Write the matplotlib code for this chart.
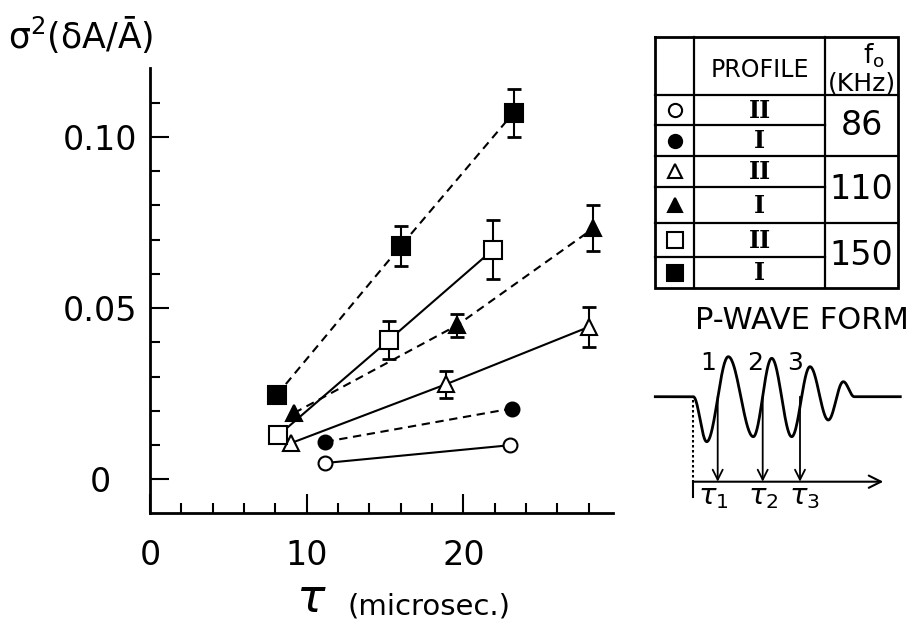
import matplotlib
matplotlib.use('Agg')
import matplotlib.pyplot as plt
import numpy as np

plt.rcParams['font.family'] = ['DejaVu Sans']
plt.rcParams['mathtext.fontset'] = 'dejavusans'

INK = 'black'

# --- data (tau in microsec, sigma^2) ---
OPEN_CIRCLE_X = [11.2, 23.0]
OPEN_CIRCLE_Y = [0.0048, 0.0100]

FILLED_CIRCLE_X = [11.2, 23.1]
FILLED_CIRCLE_Y = [0.0110, 0.0207]

OPEN_TRI_X = [9.0, 18.9, 28.0]
OPEN_TRI_Y = [0.0106, 0.0278, 0.0445]
OPEN_TRI_ERR = [0, 0.0039, 0.0057]

FILLED_TRI_X = [9.2, 19.6, 28.3]
FILLED_TRI_Y = [0.0194, 0.0450, 0.0733]
FILLED_TRI_ERR = [0, 0.0034, 0.0067]

OPEN_SQ_X = [8.2, 15.25, 21.9]
OPEN_SQ_Y = [0.0129, 0.0407, 0.0671]
OPEN_SQ_ERR = [0, 0.0056, 0.0086]

FILLED_SQ_X = [8.1, 16.0, 23.2]
FILLED_SQ_Y = [0.0247, 0.0681, 0.1070]
FILLED_SQ_ERR = [0, 0.0059, 0.0070]

X_MAJOR = [0, 10, 20]
X_MAJOR_LABELS = ['0', '10', '20']
X_MINOR = [2, 4, 6, 8, 12, 14, 16, 18, 22, 24, 26, 28]
Y_MAJOR = [0, 0.05, 0.10]
Y_MAJOR_LABELS = ['0', '0.05', '0.10']
Y_MINOR = [0.01, 0.02, 0.03, 0.04, 0.06, 0.07, 0.08, 0.09, 0.11]

# table contents
PROFILES = ['II', 'I', 'II', 'I', 'II', 'I']
FREQS = ['86', '110', '150']

# schematic P-wave: extrema (time, amplitude) in inset units
WAVE_T = [-38, 0, 13.4, 35, 60, 78.4, 98.4, 116.7, 135, 150, 161, 207]
WAVE_A = [0, 0, -45, 40, -40, 38.4, -40, 30, -23.3, 15, 0, 0]
TAU_T = [24.4, 69.4, 106.7]
PEAK_LABELS = ['1', '2', '3']
PEAK_LABEL_T = [15, 61.7, 101.7]
TAU_LABEL_T = [19.7, 69.7, 110.7]

DASH = (0, (4, 2.7))
SERIES = [
    # x, y, err, marker, size, face, linestyle
    (OPEN_CIRCLE_X, OPEN_CIRCLE_Y, None, 'o', 10, 'white', '-'),
    (FILLED_CIRCLE_X, FILLED_CIRCLE_Y, None, 'o', 10, INK, DASH),
    (OPEN_TRI_X, OPEN_TRI_Y, OPEN_TRI_ERR, '^', 11, 'white', '-'),
    (FILLED_TRI_X, FILLED_TRI_Y, FILLED_TRI_ERR, '^', 11, INK, DASH),
    (OPEN_SQ_X, OPEN_SQ_Y, OPEN_SQ_ERR, 's', 12.5, 'white', '-'),
    (FILLED_SQ_X, FILLED_SQ_Y, FILLED_SQ_ERR, 's', 12.5, INK, DASH),
]

W, H = 922, 625
fig = plt.figure(figsize=(W / 100, H / 100), dpi=100)
fig.patch.set_facecolor('white')


def px_rect(x0, y0, x1, y1):
    return [x0 / W, 1 - y1 / H, (x1 - x0) / W, (y1 - y0) / H]


# --- main plot ---
ax = fig.add_axes(px_rect(150, 68, 613, 513))
for x, y, err, mk, ms, face, ls in SERIES:
    ax.plot(x, y, color=INK, lw=1.5, linestyle=ls, zorder=1)
    if err is not None:
        keep = [i for i, e in enumerate(err) if e > 0]
        ax.errorbar([x[i] for i in keep], [y[i] for i in keep],
                    yerr=[err[i] for i in keep], fmt='none', ecolor=INK,
                    elinewidth=1.5, capsize=5, capthick=2, zorder=2)
    ax.plot(x, y, linestyle='none', marker=mk, markersize=ms,
            markerfacecolor=face, markeredgecolor=INK, markeredgewidth=1.5,
            zorder=3)

ax.set_xlim(0, 29.55)
ax.set_ylim(-0.0098, 0.1201)
for side in ['top', 'right']:
    ax.spines[side].set_visible(False)
for side in ['left', 'bottom']:
    ax.spines[side].set_linewidth(2)

ax.set_xticks(X_MAJOR, X_MAJOR_LABELS)
ax.set_xticks(X_MINOR, minor=True)
ax.set_yticks(Y_MAJOR, Y_MAJOR_LABELS)
ax.set_yticks(Y_MINOR, minor=True)
ax.tick_params(which='both', direction='in', width=1.5, colors=INK)
ax.tick_params(which='major', length=14, labelsize=24)
ax.tick_params(which='minor', length=7)
ax.tick_params(axis='x', which='major', pad=19)
ax.tick_params(axis='y', which='major', pad=36)
for lab in ax.get_yticklabels():
    lab.set_horizontalalignment('center')

fig.text(8 / W, 1 - 35 / H, r'$\mathrm{σ}^{2}$(δA/Ā)', fontsize=25,
         ha='left', va='center', color=INK)
fig.text(311 / W, 1 - 600 / H, r'$\tau$', fontsize=34, ha='center',
         va='center', color=INK)
fig.text(347 / W, 1 - 606 / H, '(microsec.)', fontsize=21, ha='left',
         va='center', color=INK)

# --- legend table ---
COL_EDGES = [0, 39, 170, 243.3]
ROW_EDGES = [0, 58.3, 88.3, 119.3, 150, 186, 220, 251.6]
tab = fig.add_axes(px_rect(655, 36.7, 898.3, 288.3))
tab.set_xlim(0, COL_EDGES[-1])
tab.set_ylim(ROW_EDGES[-1], 0)
tab.axis('off')

tab.plot([0, COL_EDGES[-1], COL_EDGES[-1], 0, 0],
         [0, 0, ROW_EDGES[-1], ROW_EDGES[-1], 0],
         color=INK, lw=2, clip_on=False, solid_joinstyle='miter')
for cx in COL_EDGES[1:-1]:
    tab.plot([cx, cx], [0, ROW_EDGES[-1]], color=INK, lw=1.6, clip_on=False)
for i, ry in enumerate(ROW_EDGES[1:-1], start=1):
    x_end = COL_EDGES[-1] if i % 2 == 1 else COL_EDGES[2]
    tab.plot([0, x_end], [ry, ry], color=INK, lw=1.6, clip_on=False)

col0 = (COL_EDGES[0] + COL_EDGES[1]) / 2
col1 = (COL_EDGES[1] + COL_EDGES[2]) / 2
col2 = (COL_EDGES[2] + COL_EDGES[3]) / 2
tab.text(col1, ROW_EDGES[1] / 2 + 4, 'PROFILE', fontsize=17,
         ha='center', va='center', color=INK)
tab.text(col2 + 12, 19, r'f$_{\mathrm{o}}$', fontsize=19,
         ha='center', va='center', color=INK)
tab.text(col2, 47, '(KHz)', fontsize=18, ha='center', va='center', color=INK)

for k, (x, y, err, mk, ms, face, ls) in enumerate(SERIES):
    yc = (ROW_EDGES[k + 1] + ROW_EDGES[k + 2]) / 2
    tab.plot([col0], [yc], linestyle='none', marker=mk, markersize=ms - 0.5,
             markerfacecolor=face, markeredgecolor=INK, markeredgewidth=1.5,
             clip_on=False)
    tab.text(col1, yc + 1, PROFILES[k], fontsize=17, family='DejaVu Serif',
             fontweight='bold', ha='center', va='center', color=INK)
for j, f in enumerate(FREQS):
    yc = (ROW_EDGES[2 * j + 1] + ROW_EDGES[2 * j + 3]) / 2
    tab.text(col2, yc, f, fontsize=24, ha='center', va='center', color=INK)

# --- P-wave schematic ---
fig.text(801.5 / W, 1 - 321 / H, 'P-WAVE FORM', fontsize=22,
         ha='center', va='center', color=INK)
wav = fig.add_axes(px_rect(640, 300, 910, 520))
wav.set_xlim(-53.3, 216.7)
wav.set_ylim(-123.3, 96.7)
wav.axis('off')

ts, as_ = [], []
for t0, a0, t1, a1 in zip(WAVE_T[:-1], WAVE_A[:-1], WAVE_T[1:], WAVE_A[1:]):
    s = np.linspace(0, 1, 40)
    ts.append(t0 + (t1 - t0) * s)
    as_.append(a0 + (a1 - a0) * (1 - np.cos(np.pi * s)) / 2)
wav.plot(np.concatenate(ts), np.concatenate(as_), color=INK, lw=2)

axis_a = -85
wav.plot([0, 0], [-3, axis_a], color=INK, lw=1.5, linestyle=(0, (1.2, 1.2)))
wav.plot([0, 0], [axis_a, -100], color=INK, lw=1.5)
wav.annotate('', xy=(190, axis_a), xytext=(0, axis_a),
             arrowprops=dict(arrowstyle='->', lw=1.5, color=INK,
                             mutation_scale=22, shrinkA=0, shrinkB=0))
for t in TAU_T:
    wav.annotate('', xy=(t, axis_a), xytext=(t, 0),
                 arrowprops=dict(arrowstyle='->', lw=1.3, color=INK,
                                 mutation_scale=18, shrinkA=0, shrinkB=0))
for lab, t in zip(PEAK_LABELS, PEAK_LABEL_T):
    wav.text(t, 33.4, lab, fontsize=18, ha='center', va='center', color=INK)
for k, t in enumerate(TAU_LABEL_T):
    wav.text(t, -100, r'$\tau_{%d}$' % (k + 1), fontsize=21,
             ha='center', va='center', color=INK)

fig.savefig('out.png', dpi=100, facecolor='white')
